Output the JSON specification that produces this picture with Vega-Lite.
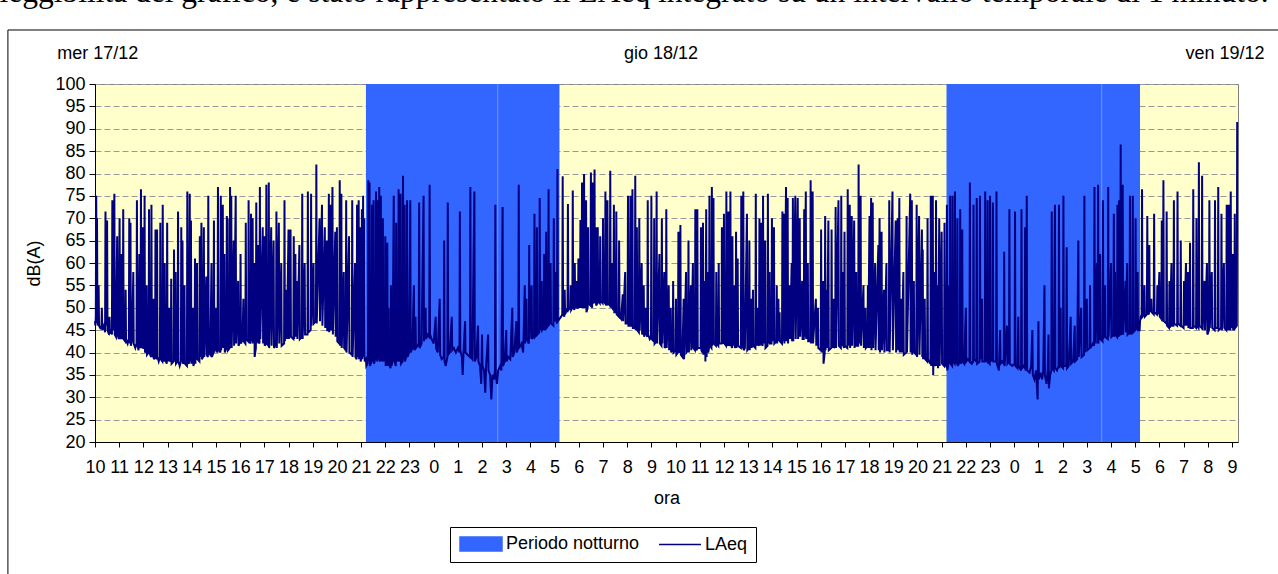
{
"$schema":"https://vega.github.io/schema/vega-lite/v6.json",
"width":1143,"height":358,
"autosize":{"type":"none"},
"padding":{"left":95,"top":84,"right":40,"bottom":132},
"background":"white",
"title":{"text":"leggibilità del grafico, è stato rappresentato il LAeq integrato su un intervallo temporale di 1 minuto.","anchor":"start","frame":"bounds","font":"Liberation Serif","fontSize":31.5,"fontWeight":"normal","color":"black","baseline":"alphabetic","offset":12,"dx":-8,"dy":16},
"config":{
 "view":{"fill":"#FFFFCC","stroke":"#808080","strokeWidth":1},
 "font":"Liberation Sans",
 "axis":{"labelFont":"Liberation Sans","labelFontSize":18,"labelColor":"black","titleFont":"Liberation Sans","titleFontSize":18,"titleFontWeight":"normal","titleColor":"black","domainColor":"black","tickColor":"black","tickSize":5},
 "axisX":{"labelOverlap":false,"labelFlush":false,"labelBound":false,"tickCount":100}
},
"layer":[
 {
  "data":{"values":[{"inizio":672,"fine":1152,"serie":"Periodo notturno"},{"inizio":2112,"fine":2592,"serie":"Periodo notturno"}]},
  "mark":{"type":"rect"},
  "encoding":{
   "x":{"field":"inizio","type":"quantitative","scale":{"domain":[0,2835],"nice":false,"zero":false},
        "axis":{"values":[0,60,120,180,240,300,360,420,480,540,600,660,720,780,840,900,960,1020,1080,1140,1200,1260,1320,1380,1440,1500,1560,1620,1680,1740,1800,1860,1920,1980,2040,2100,2160,2220,2280,2340,2400,2460,2520,2580,2640,2700,2760,2820],"tickCount":100,
        "labelExpr":"(10 + floor(datum.value/60)) % 24","title":"ora","grid":false,"labelOverlap":false,"labelFlush":false,"labelPadding":11,"titlePadding":13,"zindex":1}},
   "x2":{"field":"fine"},
   "color":{"field":"serie","type":"nominal","scale":{"domain":["Periodo notturno","LAeq"],"range":["#3366FF","#000080"]},
     "legend":{"title":null,"orient":"none","direction":"horizontal","legendX":355,"legendY":443,
       "labelFont":"Liberation Sans","labelFontSize":18,"labelColor":"black","labelLimit":400,
       "symbolSize":196,"labelOffset":30,"columnPadding":16,"padding":8,
       "strokeColor":"black","fillColor":"white",
       "encode":{"symbols":{"update":{
         "shape":{"signal":"datum.value === 'LAeq' ? 'M-1,0H5' : 'M-1,-1H5V1H-1Z'"},
         "size":{"value":196},
         "fill":{"signal":"datum.value === 'LAeq' ? 'transparent' : '#3366FF'"},
         "stroke":{"signal":"datum.value === 'LAeq' ? '#000080' : 'transparent'"},
         "strokeWidth":{"value":1.5},
         "opacity":{"value":1}}}}}}
  }
 },
 {
  "data":{"values":[{"m":999},{"m":2497}]},
  "mark":{"type":"rule","color":"#7094FF","strokeWidth":1},
  "encoding":{"x":{"field":"m","type":"quantitative",
        "axis":{"values":[0,60,120,180,240,300,360,420,480,540,600,660,720,780,840,900,960,1020,1080,1140,1200,1260,1320,1380,1440,1500,1560,1620,1680,1740,1800,1860,1920,1980,2040,2100,2160,2220,2280,2340,2400,2460,2520,2580,2640,2700,2760,2820],"tickCount":100,
        "labelExpr":"(10 + floor(datum.value/60)) % 24","title":"ora","grid":false,"labelOverlap":false,"labelFlush":false,"labelPadding":11,"titlePadding":13,"zindex":1}}}
 },
 {
  "data":{"values":[
{"m":0,"v":47},{"m":1,"v":46},{"m":2,"v":48},{"m":3,"v":75},{"m":4,"v":52},{"m":5,"v":70},{"m":6,"v":47},{"m":8,"v":46},{"m":9,"v":55},{"m":10,"v":46},{"m":13,"v":45.5},{"m":16,"v":46},{"m":17,"v":50},{"m":18,"v":45},{"m":22,"v":46},{"m":25,"v":44.5},{"m":26,"v":71.5},{"m":27,"v":47},{"m":29,"v":46},{"m":30,"v":69.5},{"m":31,"v":45},{"m":35,"v":44},{"m":36,"v":48},{"m":37,"v":44.5},{"m":40,"v":45},{"m":42,"v":44},{"m":43,"v":74},{"m":44,"v":46},{"m":47,"v":45},{"m":48,"v":75.5},{"m":49,"v":44},{"m":52,"v":43.5},{"m":55,"v":66},{"m":56,"v":44},{"m":59,"v":43},{"m":61,"v":70},{"m":62,"v":45},{"m":64,"v":43},{"m":65,"v":62},{"m":66,"v":43},{"m":69,"v":44},{"m":70,"v":72},{"m":71,"v":43},{"m":75,"v":42.5},{"m":76,"v":54},{"m":77,"v":43},{"m":81,"v":42},{"m":84,"v":43},{"m":85,"v":70},{"m":86,"v":44},{"m":87,"v":42},{"m":88,"v":69},{"m":89,"v":41.5},{"m":92,"v":43},{"m":95,"v":58},{"m":96,"v":42},{"m":100,"v":41},{"m":103,"v":42},{"m":104,"v":74},{"m":105,"v":42},{"m":108,"v":40.5},{"m":110,"v":62},{"m":111,"v":41},{"m":113,"v":42},{"m":114,"v":76.5},{"m":115,"v":41},{"m":117,"v":42},{"m":119,"v":68},{"m":120,"v":41},{"m":122,"v":41},{"m":123,"v":75},{"m":124,"v":40},{"m":127,"v":40.5},{"m":128,"v":55},{"m":129,"v":39.5},{"m":133,"v":40},{"m":134,"v":72},{"m":135,"v":40},{"m":139,"v":39},{"m":140,"v":73},{"m":141,"v":39.5},{"m":144,"v":39},{"m":145,"v":52},{"m":146,"v":38.5},{"m":149,"v":39},{"m":150,"v":67.5},{"m":151,"v":39},{"m":153,"v":38.5},{"m":154,"v":67.5},{"m":155,"v":39},{"m":158,"v":38},{"m":161,"v":39},{"m":162,"v":69},{"m":163,"v":38.5},{"m":167,"v":38},{"m":168,"v":73},{"m":169,"v":39},{"m":172,"v":38},{"m":173,"v":60},{"m":174,"v":38.5},{"m":178,"v":37.5},{"m":179,"v":69},{"m":180,"v":38},{"m":184,"v":50},{"m":185,"v":38},{"m":188,"v":38.5},{"m":189,"v":56.5},{"m":190,"v":37.5},{"m":195,"v":38},{"m":196,"v":63},{"m":197,"v":38},{"m":200,"v":58},{"m":201,"v":37.5},{"m":205,"v":38},{"m":206,"v":71.5},{"m":207,"v":38},{"m":210,"v":37},{"m":213,"v":38},{"m":214,"v":68},{"m":215,"v":38.5},{"m":217,"v":65},{"m":218,"v":37.5},{"m":221,"v":38},{"m":222,"v":55},{"m":223,"v":37.5},{"m":228,"v":37},{"m":229,"v":76},{"m":230,"v":38},{"m":233,"v":37.5},{"m":235,"v":75.5},{"m":236,"v":38},{"m":238,"v":69.5},{"m":239,"v":37.5},{"m":243,"v":50},{"m":244,"v":37},{"m":247,"v":38},{"m":248,"v":61},{"m":249,"v":37.5},{"m":253,"v":60},{"m":254,"v":38.5},{"m":259,"v":38},{"m":260,"v":66},{"m":261,"v":39},{"m":264,"v":69},{"m":265,"v":38.5},{"m":268,"v":39},{"m":270,"v":68},{"m":271,"v":39},{"m":276,"v":57},{"m":277,"v":39.5},{"m":280,"v":39},{"m":281,"v":75},{"m":282,"v":40},{"m":286,"v":39.5},{"m":289,"v":60},{"m":290,"v":39},{"m":294,"v":40},{"m":295,"v":69.5},{"m":296,"v":40},{"m":300,"v":50},{"m":301,"v":40.5},{"m":304,"v":40},{"m":305,"v":77},{"m":306,"v":41},{"m":311,"v":40},{"m":312,"v":75},{"m":313,"v":40.5},{"m":317,"v":73},{"m":318,"v":41},{"m":321,"v":62},{"m":322,"v":40},{"m":326,"v":41},{"m":327,"v":70.5},{"m":328,"v":42},{"m":329,"v":70},{"m":330,"v":40.5},{"m":334,"v":41},{"m":335,"v":77},{"m":336,"v":41.5},{"m":338,"v":75},{"m":339,"v":41},{"m":344,"v":65},{"m":345,"v":41.5},{"m":349,"v":75},{"m":350,"v":42},{"m":355,"v":56},{"m":356,"v":41.5},{"m":360,"v":42.5},{"m":361,"v":62},{"m":362,"v":42},{"m":366,"v":43},{"m":368,"v":52},{"m":369,"v":42.5},{"m":373,"v":42},{"m":374,"v":69},{"m":375,"v":43},{"m":380,"v":42.5},{"m":381,"v":74},{"m":382,"v":43},{"m":386,"v":42},{"m":387,"v":71},{"m":388,"v":42.5},{"m":391,"v":70},{"m":392,"v":42},{"m":395,"v":60},{"m":396,"v":39},{"m":399,"v":41},{"m":400,"v":73.5},{"m":401,"v":42},{"m":404,"v":64},{"m":405,"v":42.5},{"m":408,"v":42},{"m":409,"v":77},{"m":410,"v":43},{"m":416,"v":68},{"m":417,"v":42},{"m":420,"v":66},{"m":421,"v":41.5},{"m":424,"v":42},{"m":425,"v":77.5},{"m":426,"v":42},{"m":430,"v":41.5},{"m":431,"v":78},{"m":432,"v":41},{"m":437,"v":68},{"m":438,"v":41.5},{"m":443,"v":65},{"m":444,"v":41},{"m":449,"v":42},{"m":450,"v":71.5},{"m":451,"v":41},{"m":456,"v":69},{"m":457,"v":42},{"m":462,"v":60},{"m":463,"v":41.5},{"m":469,"v":42},{"m":470,"v":74},{"m":471,"v":42.5},{"m":475,"v":54},{"m":476,"v":43},{"m":480,"v":67.5},{"m":481,"v":43},{"m":485,"v":67.5},{"m":486,"v":43.5},{"m":492,"v":43},{"m":493,"v":66},{"m":494,"v":43},{"m":497,"v":62},{"m":498,"v":43.5},{"m":501,"v":56},{"m":502,"v":43},{"m":507,"v":64},{"m":508,"v":43},{"m":513,"v":43.5},{"m":514,"v":75.5},{"m":515,"v":43},{"m":520,"v":60},{"m":521,"v":44},{"m":527,"v":44},{"m":528,"v":76},{"m":529,"v":44.5},{"m":535,"v":45},{"m":536,"v":75.5},{"m":537,"v":46},{"m":542,"v":60},{"m":543,"v":46.5},{"m":548,"v":47},{"m":549,"v":82},{"m":550,"v":46.5},{"m":557,"v":70},{"m":558,"v":47},{"m":563,"v":73},{"m":564,"v":46},{"m":570,"v":68},{"m":571,"v":45.5},{"m":575,"v":65},{"m":576,"v":45},{"m":579,"v":45},{"m":580,"v":75.5},{"m":581,"v":44.5},{"m":584,"v":73},{"m":585,"v":45},{"m":589,"v":77},{"m":590,"v":44},{"m":596,"v":67},{"m":597,"v":43.5},{"m":600,"v":68},{"m":601,"v":42.5},{"m":606,"v":42},{"m":607,"v":78.5},{"m":608,"v":41.5},{"m":611,"v":75.5},{"m":612,"v":41},{"m":617,"v":58},{"m":618,"v":41},{"m":622,"v":40.5},{"m":623,"v":74},{"m":624,"v":40},{"m":630,"v":66},{"m":631,"v":40},{"m":637,"v":39.5},{"m":638,"v":74},{"m":639,"v":39},{"m":645,"v":60},{"m":646,"v":39},{"m":649,"v":38.5},{"m":650,"v":73},{"m":651,"v":39},{"m":654,"v":74},{"m":655,"v":38.5},{"m":658,"v":68},{"m":659,"v":38},{"m":661,"v":39},{"m":662,"v":72},{"m":663,"v":38.5},{"m":665,"v":75},{"m":666,"v":39},{"m":668,"v":70},{"m":669,"v":38},
{"m":672,"v":38.5},{"m":673,"v":37},{"m":676,"v":37.5},{"m":677,"v":39},{"m":678,"v":78.5},{"m":679,"v":40},{"m":680,"v":38},{"m":681,"v":78},{"m":682,"v":37},{"m":686,"v":38},{"m":687,"v":73},{"m":688,"v":39},{"m":690,"v":38},{"m":691,"v":74},{"m":692,"v":37.5},{"m":696,"v":39},{"m":697,"v":76},{"m":698,"v":40},{"m":700,"v":38},{"m":701,"v":74},{"m":702,"v":38.5},{"m":704,"v":39},{"m":705,"v":77},{"m":706,"v":38},{"m":708,"v":39},{"m":709,"v":75},{"m":710,"v":38},{"m":713,"v":40},{"m":714,"v":70},{"m":715,"v":38},{"m":719,"v":39},{"m":720,"v":66},{"m":721,"v":37},{"m":724,"v":38.5},{"m":725,"v":64.5},{"m":726,"v":37},{"m":728,"v":50},{"m":729,"v":37.5},{"m":733,"v":36.5},{"m":734,"v":55},{"m":735,"v":37},{"m":738,"v":38},{"m":741,"v":75},{"m":742,"v":38.5},{"m":746,"v":37},{"m":747,"v":69},{"m":748,"v":38},{"m":752,"v":39},{"m":753,"v":76.5},{"m":754,"v":38},{"m":757,"v":39},{"m":758,"v":75.5},{"m":759,"v":37.5},{"m":763,"v":38},{"m":764,"v":79.5},{"m":765,"v":38.5},{"m":767,"v":39},{"m":768,"v":73},{"m":769,"v":38},{"m":773,"v":39.5},{"m":774,"v":74},{"m":775,"v":39},{"m":779,"v":40},{"m":782,"v":74},{"m":783,"v":40},{"m":787,"v":41},{"m":791,"v":55},{"m":792,"v":40.5},{"m":795,"v":48},{"m":796,"v":41},{"m":800,"v":41.5},{"m":803,"v":42},{"m":804,"v":73.5},{"m":805,"v":41},{"m":810,"v":42},{"m":815,"v":75},{"m":816,"v":42.5},{"m":820,"v":50},{"m":821,"v":43},{"m":825,"v":44},{"m":829,"v":43.5},{"m":830,"v":77.5},{"m":831,"v":44},{"m":835,"v":43},{"m":840,"v":42},{"m":845,"v":48},{"m":846,"v":41},{"m":850,"v":40},{"m":855,"v":52},{"m":856,"v":39.5},{"m":860,"v":38.5},{"m":865,"v":39},{"m":866,"v":65},{"m":867,"v":38},{"m":870,"v":37},{"m":874,"v":39},{"m":875,"v":73.5},{"m":876,"v":39.5},{"m":880,"v":40},{"m":885,"v":48},{"m":886,"v":40.5},{"m":890,"v":41},{"m":895,"v":40},{"m":900,"v":41},{"m":904,"v":40},{"m":905,"v":71.5},{"m":906,"v":40.5},{"m":910,"v":39},{"m":912,"v":35},{"m":914,"v":40},{"m":918,"v":47},{"m":919,"v":40},{"m":924,"v":39.5},{"m":930,"v":39},{"m":931,"v":77},{"m":932,"v":39},{"m":936,"v":38.5},{"m":941,"v":76},{"m":942,"v":38},{"m":946,"v":39},{"m":950,"v":46},{"m":951,"v":38},{"m":955,"v":37},{"m":958,"v":33},{"m":960,"v":44},{"m":961,"v":37},{"m":965,"v":36},{"m":968,"v":31},{"m":970,"v":37},{"m":975,"v":44},{"m":976,"v":36},{"m":980,"v":35},{"m":983,"v":29.5},{"m":986,"v":35},{"m":990,"v":34},{"m":992,"v":36},{"m":993,"v":73},{"m":994,"v":35},{"m":997,"v":33},{"m":1000,"v":36},{"m":1005,"v":37},{"m":1008,"v":36},{"m":1011,"v":72.5},{"m":1012,"v":37},{"m":1016,"v":38},{"m":1020,"v":45},{"m":1021,"v":38},{"m":1025,"v":39},{"m":1030,"v":38.5},{"m":1035,"v":50},{"m":1036,"v":39},{"m":1040,"v":40},{"m":1045,"v":47},{"m":1046,"v":40},{"m":1050,"v":41},{"m":1051,"v":77.5},{"m":1052,"v":41},{"m":1058,"v":42},{"m":1062,"v":40},{"m":1066,"v":55},{"m":1067,"v":42},{"m":1070,"v":52},{"m":1071,"v":43},{"m":1076,"v":42},{"m":1077,"v":64},{"m":1078,"v":43},{"m":1083,"v":55},{"m":1084,"v":43},{"m":1089,"v":44},{"m":1090,"v":71},{"m":1091,"v":43.5},{"m":1095,"v":44},{"m":1096,"v":68},{"m":1097,"v":44},{"m":1102,"v":44.5},{"m":1103,"v":74.5},{"m":1104,"v":45},{"m":1108,"v":56},{"m":1109,"v":45},{"m":1113,"v":45.5},{"m":1114,"v":62},{"m":1115,"v":45},{"m":1118,"v":46},{"m":1119,"v":67},{"m":1120,"v":45.5},{"m":1124,"v":46},{"m":1125,"v":76.5},{"m":1126,"v":46},{"m":1130,"v":60},{"m":1131,"v":46.5},{"m":1137,"v":46},{"m":1138,"v":70},{"m":1139,"v":47},{"m":1143,"v":58},{"m":1144,"v":47},{"m":1146,"v":46.5},{"m":1147,"v":81},{"m":1148,"v":47},
{"m":1152,"v":47.5},{"m":1156,"v":48},{"m":1159,"v":48.5},{"m":1160,"v":79.4},{"m":1161,"v":49},{"m":1164,"v":48},{"m":1165,"v":54},{"m":1166,"v":48.5},{"m":1170,"v":49.5},{"m":1172,"v":49},{"m":1173,"v":73.2},{"m":1174,"v":49.5},{"m":1179,"v":50},{"m":1180,"v":55},{"m":1181,"v":49.5},{"m":1184,"v":50},{"m":1185,"v":76.2},{"m":1186,"v":50.5},{"m":1189,"v":49.5},{"m":1190,"v":60},{"m":1191,"v":50},{"m":1194,"v":50.5},{"m":1195,"v":56},{"m":1196,"v":50},{"m":1198,"v":50},{"m":1199,"v":61},{"m":1200,"v":50.5},{"m":1203,"v":50},{"m":1204,"v":69.6},{"m":1205,"v":51},{"m":1207,"v":50},{"m":1208,"v":78},{"m":1209,"v":50.5},{"m":1212,"v":50},{"m":1213,"v":79.9},{"m":1214,"v":51},{"m":1217,"v":50},{"m":1218,"v":74},{"m":1219,"v":49},{"m":1222,"v":50},{"m":1223,"v":68},{"m":1224,"v":51},{"m":1229,"v":50.5},{"m":1230,"v":80.2},{"m":1231,"v":51},{"m":1233,"v":50},{"m":1234,"v":78},{"m":1235,"v":51.5},{"m":1238,"v":51},{"m":1239,"v":80.9},{"m":1240,"v":51},{"m":1242,"v":68},{"m":1243,"v":50.5},{"m":1246,"v":51},{"m":1247,"v":68},{"m":1248,"v":51.5},{"m":1252,"v":51},{"m":1253,"v":66},{"m":1254,"v":51.5},{"m":1259,"v":51},{"m":1260,"v":70},{"m":1261,"v":51.5},{"m":1265,"v":51},{"m":1266,"v":76},{"m":1267,"v":51.5},{"m":1270,"v":50.5},{"m":1271,"v":74},{"m":1272,"v":51},{"m":1277,"v":50.5},{"m":1278,"v":80.6},{"m":1279,"v":50},{"m":1282,"v":60},{"m":1283,"v":50},{"m":1286,"v":49.5},{"m":1287,"v":73},{"m":1288,"v":49},{"m":1292,"v":49},{"m":1293,"v":71.5},{"m":1294,"v":48.5},{"m":1299,"v":48},{"m":1300,"v":65},{"m":1301,"v":48},{"m":1305,"v":47.5},{"m":1309,"v":53},{"m":1310,"v":47},{"m":1315,"v":58},{"m":1316,"v":46.5},{"m":1321,"v":46.5},{"m":1322,"v":75},{"m":1323,"v":46},{"m":1327,"v":46},{"m":1328,"v":75},{"m":1329,"v":46},{"m":1332,"v":46},{"m":1333,"v":76.5},{"m":1334,"v":45.5},{"m":1339,"v":45.5},{"m":1340,"v":79.5},{"m":1341,"v":45},{"m":1344,"v":68},{"m":1345,"v":45},{"m":1349,"v":44.5},{"m":1350,"v":70},{"m":1351,"v":45},{"m":1356,"v":60},{"m":1357,"v":44},{"m":1361,"v":55},{"m":1362,"v":43.5},{"m":1366,"v":50},{"m":1367,"v":44},{"m":1370,"v":43.5},{"m":1371,"v":74},{"m":1372,"v":44},{"m":1376,"v":43},{"m":1379,"v":43.5},{"m":1380,"v":75},{"m":1381,"v":43},{"m":1386,"v":42.5},{"m":1387,"v":70},{"m":1388,"v":42},{"m":1392,"v":42.5},{"m":1393,"v":76},{"m":1394,"v":42},{"m":1400,"v":62},{"m":1401,"v":42},{"m":1405,"v":41.5},{"m":1406,"v":70},{"m":1407,"v":42},{"m":1412,"v":58},{"m":1413,"v":41},{"m":1416,"v":41.5},{"m":1417,"v":72},{"m":1418,"v":41},{"m":1423,"v":55},{"m":1424,"v":40.5},{"m":1428,"v":50},{"m":1429,"v":40},{"m":1433,"v":41},{"m":1434,"v":56},{"m":1435,"v":40},{"m":1440,"v":40.5},{"m":1441,"v":52},{"m":1442,"v":39.5},{"m":1446,"v":40},{"m":1447,"v":67},{"m":1448,"v":40.5},{"m":1451,"v":40},{"m":1452,"v":68.5},{"m":1453,"v":39.5},{"m":1457,"v":39},{"m":1460,"v":52},{"m":1461,"v":38.5},{"m":1466,"v":58},{"m":1467,"v":40},{"m":1471,"v":40.5},{"m":1472,"v":65},{"m":1473,"v":40},{"m":1478,"v":55},{"m":1479,"v":40.5},{"m":1483,"v":60},{"m":1484,"v":41},{"m":1488,"v":40.5},{"m":1489,"v":72},{"m":1490,"v":41},{"m":1493,"v":40.5},{"m":1494,"v":72},{"m":1495,"v":41},{"m":1502,"v":41},{"m":1503,"v":68},{"m":1504,"v":40.5},{"m":1507,"v":40},{"m":1508,"v":69},{"m":1509,"v":39.5},{"m":1513,"v":56},{"m":1514,"v":38},{"m":1516,"v":72},{"m":1517,"v":39},{"m":1520,"v":58},{"m":1521,"v":40},{"m":1523,"v":41},{"m":1524,"v":75},{"m":1525,"v":41.5},{"m":1529,"v":41},{"m":1530,"v":77},{"m":1531,"v":41.5},{"m":1534,"v":74.5},{"m":1535,"v":42},{"m":1540,"v":41.5},{"m":1541,"v":58},{"m":1542,"v":42},{"m":1546,"v":41.5},{"m":1547,"v":60},{"m":1548,"v":42},{"m":1554,"v":42},{"m":1555,"v":68},{"m":1556,"v":42.5},{"m":1559,"v":42},{"m":1560,"v":71},{"m":1561,"v":42},{"m":1565,"v":41.5},{"m":1566,"v":76},{"m":1567,"v":42},{"m":1570,"v":41.5},{"m":1571,"v":71.5},{"m":1572,"v":42},{"m":1575,"v":41.5},{"m":1576,"v":76},{"m":1577,"v":42},{"m":1580,"v":41},{"m":1581,"v":66},{"m":1582,"v":41.5},{"m":1586,"v":55},{"m":1587,"v":41},{"m":1589,"v":41.5},{"m":1590,"v":67},{"m":1591,"v":41},{"m":1594,"v":61},{"m":1595,"v":41.5},{"m":1602,"v":41},{"m":1603,"v":75},{"m":1604,"v":41.5},{"m":1607,"v":41},{"m":1608,"v":76},{"m":1609,"v":40.5},{"m":1612,"v":41},{"m":1617,"v":71},{"m":1618,"v":40.5},{"m":1622,"v":41},{"m":1623,"v":65},{"m":1624,"v":40.5},{"m":1628,"v":52},{"m":1629,"v":41},{"m":1632,"v":54},{"m":1633,"v":41.5},{"m":1638,"v":41},{"m":1639,"v":75.5},{"m":1640,"v":41.5},{"m":1644,"v":50},{"m":1645,"v":41.5},{"m":1647,"v":42},{"m":1648,"v":70},{"m":1649,"v":41.5},{"m":1652,"v":69},{"m":1653,"v":42},{"m":1656,"v":41.5},{"m":1657,"v":75},{"m":1658,"v":42},{"m":1662,"v":65},{"m":1663,"v":41},{"m":1668,"v":41.5},{"m":1669,"v":75.5},{"m":1670,"v":42},{"m":1673,"v":58},{"m":1674,"v":42},{"m":1678,"v":42},{"m":1679,"v":70},{"m":1680,"v":42.5},{"m":1684,"v":68},{"m":1685,"v":42},{"m":1690,"v":42.5},{"m":1691,"v":55},{"m":1692,"v":42},{"m":1695,"v":52},{"m":1696,"v":42.5},{"m":1698,"v":49},{"m":1699,"v":42.5},{"m":1704,"v":42},{"m":1705,"v":71.5},{"m":1706,"v":42.5},{"m":1709,"v":71},{"m":1710,"v":42},{"m":1714,"v":77},{"m":1715,"v":42.5},{"m":1718,"v":74.5},{"m":1719,"v":42},{"m":1723,"v":55},{"m":1724,"v":43},{"m":1728,"v":60},{"m":1729,"v":42.5},{"m":1730,"v":43},{"m":1731,"v":74.5},{"m":1732,"v":42.5},{"m":1737,"v":75},{"m":1738,"v":43},{"m":1743,"v":74.5},{"m":1744,"v":43},{"m":1748,"v":70},{"m":1749,"v":43.5},{"m":1754,"v":56},{"m":1755,"v":43},{"m":1758,"v":43},{"m":1759,"v":72},{"m":1760,"v":43.5},{"m":1763,"v":76},{"m":1764,"v":43},{"m":1768,"v":60},{"m":1769,"v":42.5},{"m":1774,"v":42.5},{"m":1775,"v":78.5},{"m":1776,"v":42},{"m":1780,"v":76},{"m":1781,"v":42},{"m":1788,"v":52},{"m":1789,"v":41.5},{"m":1793,"v":50},{"m":1794,"v":41},{"m":1800,"v":40.5},{"m":1801,"v":67.5},{"m":1802,"v":40},{"m":1806,"v":56},{"m":1807,"v":37.5},{"m":1810,"v":40},{"m":1811,"v":70.5},{"m":1812,"v":40.5},{"m":1815,"v":54},{"m":1816,"v":41},{"m":1819,"v":69.5},{"m":1820,"v":40.5},{"m":1826,"v":41},{"m":1827,"v":67.5},{"m":1828,"v":41},{"m":1832,"v":52},{"m":1833,"v":41},{"m":1836,"v":41.5},{"m":1837,"v":72.5},{"m":1838,"v":41},{"m":1844,"v":74},{"m":1845,"v":41.5},{"m":1850,"v":41},{"m":1851,"v":75},{"m":1852,"v":41.5},{"m":1855,"v":58},{"m":1856,"v":41.5},{"m":1858,"v":41},{"m":1859,"v":67},{"m":1860,"v":41.5},{"m":1866,"v":41},{"m":1867,"v":76.5},{"m":1868,"v":41.5},{"m":1872,"v":73},{"m":1873,"v":41},{"m":1877,"v":70.5},{"m":1878,"v":41.5},{"m":1883,"v":69.5},{"m":1884,"v":41},{"m":1888,"v":58},{"m":1889,"v":41.5},{"m":1893,"v":41.5},{"m":1894,"v":82},{"m":1895,"v":42},{"m":1899,"v":75},{"m":1900,"v":41.5},{"m":1906,"v":55},{"m":1907,"v":41},{"m":1911,"v":50},{"m":1912,"v":41},{"m":1916,"v":41.5},{"m":1917,"v":55},{"m":1918,"v":41},{"m":1921,"v":70.5},{"m":1922,"v":41},{"m":1925,"v":74.5},{"m":1926,"v":40.5},{"m":1929,"v":73.5},{"m":1930,"v":41},{"m":1935,"v":60},{"m":1936,"v":40.5},{"m":1943,"v":64},{"m":1944,"v":40.5},{"m":1946,"v":70},{"m":1947,"v":40},{"m":1951,"v":67},{"m":1952,"v":40.5},{"m":1957,"v":54},{"m":1958,"v":40},{"m":1963,"v":60},{"m":1964,"v":40.5},{"m":1969,"v":40.5},{"m":1970,"v":74},{"m":1971,"v":40},{"m":1978,"v":76},{"m":1979,"v":40.5},{"m":1986,"v":69.5},{"m":1987,"v":40},{"m":1991,"v":70},{"m":1992,"v":40.5},{"m":1995,"v":74.5},{"m":1996,"v":40},{"m":2000,"v":52},{"m":2001,"v":40},{"m":2005,"v":58},{"m":2006,"v":39.5},{"m":2012,"v":40},{"m":2013,"v":70.5},{"m":2014,"v":40},{"m":2022,"v":75.5},{"m":2023,"v":40},{"m":2026,"v":74},{"m":2027,"v":39.5},{"m":2031,"v":56},{"m":2032,"v":40},{"m":2037,"v":39.5},{"m":2038,"v":73},{"m":2039,"v":39},{"m":2044,"v":70.5},{"m":2045,"v":39.5},{"m":2051,"v":67.5},{"m":2052,"v":39},{"m":2053,"v":63},{"m":2054,"v":38.5},{"m":2058,"v":52},{"m":2059,"v":38.5},{"m":2064,"v":38},{"m":2065,"v":70},{"m":2066,"v":38.5},{"m":2072,"v":37.5},{"m":2073,"v":75},{"m":2074,"v":37},{"m":2078,"v":75},{"m":2079,"v":35},{"m":2082,"v":58},{"m":2083,"v":37},{"m":2085,"v":37.5},{"m":2086,"v":74},{"m":2087,"v":37},{"m":2090,"v":55},{"m":2091,"v":36.5},{"m":2094,"v":70},{"m":2095,"v":37},{"m":2100,"v":67},{"m":2101,"v":37.5},{"m":2106,"v":37},{"m":2107,"v":69},{"m":2108,"v":37.5},{"m":2111,"v":37},
{"m":2112,"v":37.5},{"m":2113,"v":73},{"m":2114,"v":36},{"m":2116,"v":37},{"m":2117,"v":55},{"m":2118,"v":37.5},{"m":2120,"v":38},{"m":2121,"v":75},{"m":2122,"v":37.5},{"m":2126,"v":37},{"m":2127,"v":75},{"m":2128,"v":38},{"m":2132,"v":37.5},{"m":2133,"v":76},{"m":2134,"v":38},{"m":2138,"v":37.5},{"m":2139,"v":70},{"m":2140,"v":37},{"m":2145,"v":38},{"m":2146,"v":72},{"m":2147,"v":37.5},{"m":2150,"v":38},{"m":2151,"v":67.5},{"m":2152,"v":38},{"m":2156,"v":37.5},{"m":2160,"v":50},{"m":2161,"v":38},{"m":2165,"v":38.5},{"m":2169,"v":38},{"m":2170,"v":78},{"m":2171,"v":38},{"m":2175,"v":37.5},{"m":2178,"v":38},{"m":2179,"v":73},{"m":2180,"v":38.5},{"m":2186,"v":38},{"m":2187,"v":74.5},{"m":2188,"v":37.5},{"m":2194,"v":38},{"m":2195,"v":75},{"m":2196,"v":38.5},{"m":2200,"v":52},{"m":2201,"v":38},{"m":2207,"v":38},{"m":2208,"v":76},{"m":2209,"v":38.5},{"m":2213,"v":38},{"m":2214,"v":74},{"m":2215,"v":38},{"m":2219,"v":37.5},{"m":2220,"v":75},{"m":2221,"v":38},{"m":2226,"v":38.5},{"m":2227,"v":73.5},{"m":2228,"v":38},{"m":2235,"v":38},{"m":2236,"v":76},{"m":2237,"v":37.5},{"m":2242,"v":36},{"m":2245,"v":45},{"m":2246,"v":37.5},{"m":2250,"v":38},{"m":2254,"v":37.5},{"m":2255,"v":62.5},{"m":2256,"v":37},{"m":2262,"v":46},{"m":2263,"v":37.5},{"m":2267,"v":38},{"m":2268,"v":72},{"m":2269,"v":37.5},{"m":2275,"v":37},{"m":2281,"v":37.5},{"m":2282,"v":71.5},{"m":2283,"v":37},{"m":2288,"v":36.5},{"m":2290,"v":48},{"m":2291,"v":37},{"m":2297,"v":36},{"m":2298,"v":72},{"m":2299,"v":36.5},{"m":2303,"v":37},{"m":2306,"v":36.5},{"m":2307,"v":68},{"m":2308,"v":36},{"m":2310,"v":36.5},{"m":2311,"v":75},{"m":2312,"v":36},{"m":2318,"v":35.5},{"m":2322,"v":37},{"m":2325,"v":45},{"m":2326,"v":35},{"m":2330,"v":34},{"m":2334,"v":36},{"m":2338,"v":29.5},{"m":2340,"v":47},{"m":2341,"v":34},{"m":2345,"v":35.5},{"m":2349,"v":34},{"m":2352,"v":36},{"m":2355,"v":55},{"m":2356,"v":35},{"m":2360,"v":33},{"m":2363,"v":36},{"m":2365,"v":44},{"m":2366,"v":32},{"m":2369,"v":35},{"m":2372,"v":36},{"m":2373,"v":71.5},{"m":2374,"v":36.5},{"m":2378,"v":36},{"m":2381,"v":73},{"m":2382,"v":36.5},{"m":2386,"v":36},{"m":2390,"v":37},{"m":2391,"v":73},{"m":2392,"v":36.5},{"m":2395,"v":50},{"m":2396,"v":37},{"m":2401,"v":36.5},{"m":2402,"v":75},{"m":2403,"v":37},{"m":2409,"v":37},{"m":2410,"v":63.5},{"m":2411,"v":36.5},{"m":2415,"v":37},{"m":2420,"v":48},{"m":2421,"v":37.5},{"m":2426,"v":38},{"m":2430,"v":46},{"m":2431,"v":38},{"m":2436,"v":38.5},{"m":2439,"v":65},{"m":2440,"v":39},{"m":2446,"v":50},{"m":2447,"v":39},{"m":2453,"v":39.5},{"m":2454,"v":75},{"m":2455,"v":40},{"m":2460,"v":52},{"m":2461,"v":40.5},{"m":2467,"v":41},{"m":2468,"v":55},{"m":2469,"v":41},{"m":2475,"v":42},{"m":2478,"v":41.5},{"m":2479,"v":77},{"m":2480,"v":42},{"m":2485,"v":60},{"m":2486,"v":42},{"m":2487,"v":42.5},{"m":2488,"v":77.5},{"m":2489,"v":42},{"m":2493,"v":62},{"m":2494,"v":43},{"m":2499,"v":42.5},{"m":2500,"v":74},{"m":2501,"v":43},{"m":2505,"v":55},{"m":2506,"v":43.5},{"m":2512,"v":43},{"m":2513,"v":77},{"m":2514,"v":43.5},{"m":2520,"v":60},{"m":2521,"v":43.5},{"m":2526,"v":44},{"m":2527,"v":71},{"m":2528,"v":43.5},{"m":2530,"v":58},{"m":2531,"v":44},{"m":2535,"v":43.5},{"m":2536,"v":73},{"m":2537,"v":44},{"m":2539,"v":43.5},{"m":2540,"v":74},{"m":2541,"v":44},{"m":2543,"v":44},{"m":2544,"v":86.5},{"m":2545,"v":44.5},{"m":2548,"v":44},{"m":2549,"v":77.5},{"m":2550,"v":44},{"m":2556,"v":56},{"m":2557,"v":44.5},{"m":2560,"v":60},{"m":2561,"v":44},{"m":2566,"v":44.5},{"m":2567,"v":75},{"m":2568,"v":44},{"m":2573,"v":45},{"m":2574,"v":75},{"m":2575,"v":44.5},{"m":2580,"v":45},{"m":2581,"v":70},{"m":2582,"v":45},{"m":2586,"v":58},{"m":2587,"v":45},{"m":2591,"v":45},
{"m":2592,"v":47},{"m":2594,"v":48},{"m":2596,"v":48.5},{"m":2597,"v":76.5},{"m":2598,"v":48},{"m":2602,"v":48.5},{"m":2603,"v":55},{"m":2604,"v":48},{"m":2609,"v":48.5},{"m":2610,"v":70.5},{"m":2611,"v":49},{"m":2614,"v":48.5},{"m":2615,"v":64},{"m":2616,"v":49},{"m":2620,"v":52},{"m":2621,"v":49},{"m":2626,"v":48.5},{"m":2627,"v":71},{"m":2628,"v":49},{"m":2634,"v":48.5},{"m":2635,"v":55},{"m":2636,"v":48.5},{"m":2640,"v":58},{"m":2641,"v":48},{"m":2645,"v":47.5},{"m":2646,"v":69.5},{"m":2647,"v":47},{"m":2649,"v":47.5},{"m":2650,"v":78.5},{"m":2651,"v":47},{"m":2657,"v":46.5},{"m":2658,"v":71.5},{"m":2659,"v":46},{"m":2664,"v":45.5},{"m":2665,"v":56},{"m":2666,"v":45.5},{"m":2670,"v":60},{"m":2671,"v":46},{"m":2675,"v":46},{"m":2676,"v":74},{"m":2677,"v":46.5},{"m":2684,"v":46},{"m":2685,"v":76},{"m":2686,"v":46.5},{"m":2692,"v":46},{"m":2693,"v":65},{"m":2694,"v":46},{"m":2700,"v":45.5},{"m":2701,"v":56},{"m":2702,"v":46},{"m":2706,"v":60},{"m":2707,"v":46},{"m":2711,"v":58},{"m":2712,"v":45.5},{"m":2715,"v":46},{"m":2716,"v":64.5},{"m":2717,"v":45.5},{"m":2723,"v":45.5},{"m":2724,"v":76.5},{"m":2725,"v":46},{"m":2731,"v":45.5},{"m":2732,"v":70},{"m":2733,"v":46},{"m":2737,"v":45.5},{"m":2738,"v":82.5},{"m":2739,"v":46},{"m":2745,"v":45.5},{"m":2746,"v":79.5},{"m":2747,"v":45},{"m":2752,"v":56},{"m":2753,"v":45},{"m":2758,"v":60},{"m":2759,"v":44},{"m":2763,"v":45},{"m":2764,"v":74},{"m":2765,"v":45.5},{"m":2770,"v":58},{"m":2771,"v":45.5},{"m":2777,"v":45},{"m":2778,"v":74},{"m":2779,"v":45.5},{"m":2785,"v":45.5},{"m":2786,"v":77},{"m":2787,"v":45},{"m":2793,"v":45.5},{"m":2794,"v":71},{"m":2795,"v":45},{"m":2800,"v":60},{"m":2801,"v":45.5},{"m":2806,"v":45},{"m":2807,"v":73},{"m":2808,"v":45.5},{"m":2811,"v":45},{"m":2812,"v":73},{"m":2813,"v":45.5},{"m":2816,"v":45},{"m":2817,"v":76},{"m":2818,"v":45.5},{"m":2822,"v":62},{"m":2823,"v":45},{"m":2826,"v":45.5},{"m":2827,"v":71},{"m":2828,"v":45.5},{"m":2832,"v":46},{"m":2833,"v":91.5}
  ]},
  "mark":{"type":"line","strokeWidth":2,"strokeJoin":"miter"},
  "encoding":{
   "x":{"field":"m","type":"quantitative",
        "axis":{"values":[0,60,120,180,240,300,360,420,480,540,600,660,720,780,840,900,960,1020,1080,1140,1200,1260,1320,1380,1440,1500,1560,1620,1680,1740,1800,1860,1920,1980,2040,2100,2160,2220,2280,2340,2400,2460,2520,2580,2640,2700,2760,2820],"tickCount":100,
        "labelExpr":"(10 + floor(datum.value/60)) % 24","title":"ora","grid":false,"labelOverlap":false,"labelFlush":false,"labelPadding":11,"titlePadding":13,"zindex":1}},
   "y":{"field":"v","type":"quantitative","scale":{"domain":[20,100],"nice":false,"zero":false},
        "axis":{"values":[20,25,30,35,40,45,50,55,60,65,70,75,80,85,90,95,100],"tickCount":100,"grid":true,"gridDash":[6,3],"gridColor":"#999999","gridWidth":1,"labelPadding":4,"tickSize":6,"title":"dB(A)","titlePadding":11}},
   "color":{"datum":"LAeq"}
  }
 },
 {
  "data":{"values":[{"m":7,"giorno":"mer 17/12"},{"m":1404,"giorno":"gio 18/12"},{"m":2803,"giorno":"ven 19/12"}]},
  "mark":{"type":"text","font":"Liberation Sans","fontSize":18,"align":"center","baseline":"middle","color":"black"},
  "encoding":{
   "x":{"field":"m","type":"quantitative",
        "axis":{"values":[0,60,120,180,240,300,360,420,480,540,600,660,720,780,840,900,960,1020,1080,1140,1200,1260,1320,1380,1440,1500,1560,1620,1680,1740,1800,1860,1920,1980,2040,2100,2160,2220,2280,2340,2400,2460,2520,2580,2640,2700,2760,2820],"tickCount":100,
        "labelExpr":"(10 + floor(datum.value/60)) % 24","title":"ora","grid":false,"labelOverlap":false,"labelFlush":false,"labelPadding":11,"titlePadding":13,"zindex":1}},
   "y":{"datum":106.8,"type":"quantitative"},
   "text":{"field":"giorno"}
  }
 },
 {
  "data":{"values":[{"cornice":"area del grafico"}]},
  "mark":{"type":"rect","fill":"transparent","stroke":"black","strokeWidth":1,"clip":false},
  "encoding":{
   "x":{"datum":-216,"type":"quantitative"},
   "x2":{"datum":3000},
   "y":{"datum":112.07,"type":"quantitative"},
   "y2":{"datum":-20}
  }
 }
]
}
